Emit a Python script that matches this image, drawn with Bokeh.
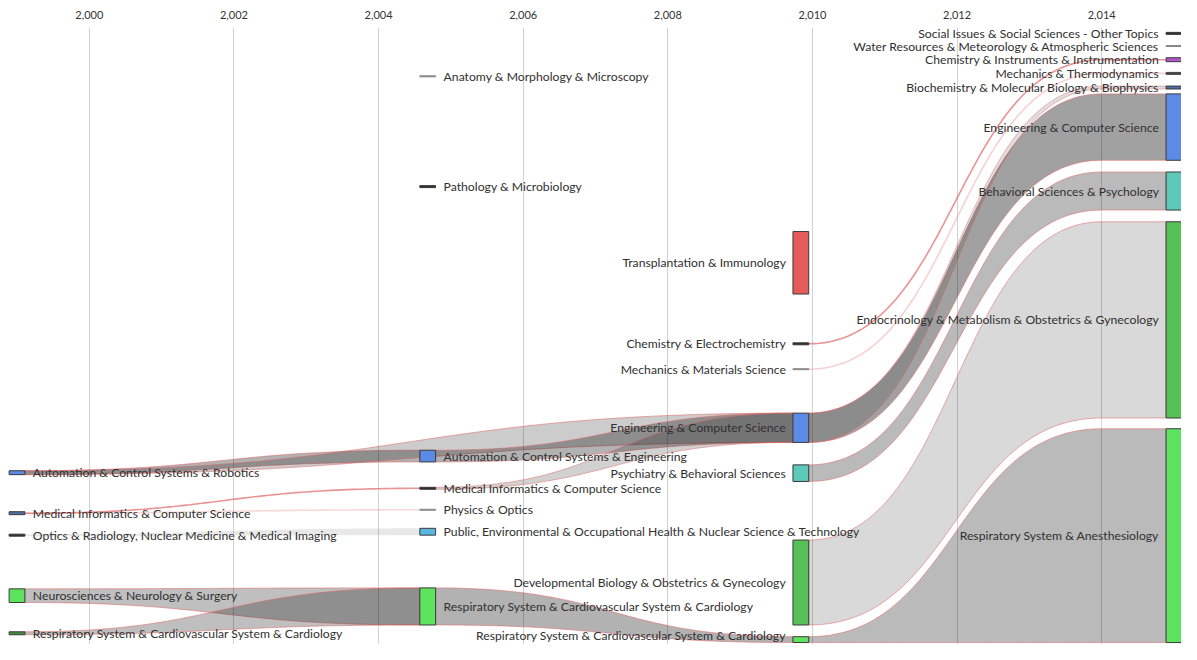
import numpy as np
from bokeh.plotting import figure
from bokeh.models import Range1d, FixedTicker, NumeralTickFormatter, ColumnDataSource
from bokeh.core.properties import value
from bokeh.embed import file_html
from bokeh.resources import INLINE

# ---------------- data ----------------
tick_years = [2000, 2002, 2004, 2006, 2008, 2010, 2012, 2014]
column_years = [1999.0, 2004.68, 2009.84, 2015.0]

node_names = [
    "Automation & Control Systems & Robotics",
    "Medical Informatics & Computer Science",
    "Optics & Radiology, Nuclear Medicine & Medical Imaging",
    "Neurosciences & Neurology & Surgery",
    "Respiratory System & Cardiovascular System & Cardiology",
    "Anatomy & Morphology & Microscopy",
    "Pathology & Microbiology",
    "Automation & Control Systems & Engineering",
    "Medical Informatics & Computer Science",
    "Physics & Optics",
    "Public, Environmental & Occupational Health & Nuclear Science & Technology",
    "Respiratory System & Cardiovascular System & Cardiology",
    "Transplantation & Immunology",
    "Chemistry & Electrochemistry",
    "Mechanics & Materials Science",
    "Engineering & Computer Science",
    "Psychiatry & Behavioral Sciences",
    "Developmental Biology & Obstetrics & Gynecology",
    "Respiratory System & Cardiovascular System & Cardiology",
    "Social Issues & Social Sciences - Other Topics",
    "Water Resources & Meteorology & Atmospheric Sciences",
    "Chemistry & Instruments & Instrumentation",
    "Mechanics & Thermodynamics",
    "Biochemistry & Molecular Biology & Biophysics",
    "Engineering & Computer Science",
    "Behavioral Sciences & Psychology",
    "Endocrinology & Metabolism & Obstetrics & Gynecology",
    "Respiratory System & Anesthesiology",
]
node_column = [0, 0, 0, 0, 0,
               1, 1, 1, 1, 1, 1, 1,
               2, 2, 2, 2, 2, 2, 2,
               3, 3, 3, 3, 3, 3, 3, 3, 3]
node_size = [4, 3, 2, 14, 3,
             1, 2, 12, 2, 1, 7, 38,
             64, 2, 1, 30, 17, 87, 6,
             2, 1, 4, 2, 3, 68, 39, 201, 219]
node_center = [456, 497.5, 520, 582, 620.5,
               50, 163, 439, 472, 494, 516.5, 593,
               241, 324, 350, 410, 456.5, 568.5, 627,
               6, 19, 33, 47, 61.5, 102, 167.5, 299.5, 520.5]

link_source = [0, 0, 1, 1, 2, 3, 4, 7, 8, 11, 15, 15, 16, 17, 18, 13, 14]
link_target = [7, 15, 8, 9, 10, 11, 11, 15, 15, 18, 24, 23, 25, 26, 27, 21, 22]

# ---------------- styles ----------------
node_color = ["#5b8be6", "#4d6ea6", "#333333", "#5de35d", "#3f8f3f",
              "#888888", "#333333", "#5b8be6", "#333333", "#888888", "#5ab6e2", "#5de35d",
              "#e55b5b", "#333333", "#888888", "#5b8be6", "#5cc9b9", "#56c156", "#5de35d",
              "#333333", "#888888", "#b455c8", "#444444", "#4d6ea6", "#5b8be6", "#5cc9b9", "#56c156", "#5de35d"]
link_fill_alpha = [0.30, 0.20, 0.0, 0.0, 0.09, 0.25, 0.25, 0.30, 0.18, 0.30,
                   0.37, 0.13, 0.27, 0.15, 0.27, 0.0, 0.0]
link_line_alpha = [0.55, 0.55, 0.7, 0.25, 0.0, 0.55, 0.55, 0.55, 0.5, 0.55,
                   0.55, 0.45, 0.55, 0.55, 0.55, 0.7, 0.3]
label_dy = [0] * 18 + [-4] + [0] * 9

HW = 0.109          # half node width in years
LAST_CURVE_END = 2014.0
FONT = "Lato"

p = figure(width=1181, height=644,
           x_range=Range1d(1998.772, 2015.104), y_range=Range1d(632, 0),
           x_axis_location="above", y_axis_location=None,
           output_backend="svg", toolbar_location=None,
           min_border_left=0, min_border_right=0, min_border_bottom=0, min_border_top=27)
p.outline_line_color = None
p.background_fill_color = "white"
ticker = FixedTicker(ticks=tick_years)
p.xaxis.ticker = ticker
p.xgrid.ticker = ticker
p.xaxis.formatter = NumeralTickFormatter(format="0,0")
p.xaxis.axis_line_color = None
p.xaxis.major_tick_line_color = None
p.xaxis.minor_tick_line_color = None
p.xaxis.major_label_text_font = FONT
p.xaxis.major_label_text_font_size = "11px"
p.xaxis.major_label_text_color = "#333333"
p.xaxis.major_label_standoff = 3
p.xgrid.grid_line_color = "#d2d2d2"
p.ygrid.visible = False


def node_extent(i):
    c = node_center[i]
    h = node_size[i] / 2.0
    return c - h, c + h


t = np.linspace(0, 1, 80)
band_xs, band_ys, band_fa, band_la = [], [], [], []
thin_xs, thin_ys, thin_la = [], [], []
for k, (s, g) in enumerate(zip(link_source, link_target)):
    x0 = column_years[node_column[s]] + HW
    xr = column_years[node_column[g]] - HW
    x1 = min(xr, LAST_CURVE_END) if node_column[g] == 3 else xr
    xm = (x0 + x1) / 2.0
    bx = (1 - t) ** 3 * x0 + 3 * (1 - t) ** 2 * t * xm + 3 * (1 - t) * t ** 2 * xm + t ** 3 * x1
    f = 3 * t ** 2 - 2 * t ** 3
    s0, s1 = node_extent(s)
    g0, g1 = node_extent(g)
    top = list(s0 + (g0 - s0) * f)
    bot = list(s1 + (g1 - s1) * f)
    bx = list(bx)
    if x1 < xr:
        bx.append(xr)
        top.append(g0)
        bot.append(g1)
    if link_fill_alpha[k] > 0:
        band_xs.append(bx + bx[::-1])
        band_ys.append(top + bot[::-1])
        band_fa.append(link_fill_alpha[k])
        band_la.append(link_line_alpha[k])
    else:
        thin_xs.append(bx)
        thin_ys.append([(a + b) / 2.0 for a, b in zip(top, bot)])
        thin_la.append(link_line_alpha[k])

band_src = ColumnDataSource(dict(xs=band_xs, ys=band_ys, fa=band_fa, la=band_la))
p.patches("xs", "ys", source=band_src, fill_color="black", fill_alpha="fa",
          line_color="#e06666", line_alpha="la", line_width=1)
thin_src = ColumnDataSource(dict(xs=thin_xs, ys=thin_ys, la=thin_la))
p.multi_line("xs", "ys", source=thin_src, line_color="#e06666", line_alpha="la", line_width=1.6)

left = [column_years[c] - HW for c in node_column]
right = [column_years[c] + HW for c in node_column]
tops = [node_extent(i)[0] for i in range(len(node_names))]
bots = [node_extent(i)[1] for i in range(len(node_names))]
ncol_line = ["#3a3a3a" if sz >= 3 else col for sz, col in zip(node_size, node_color)]
node_src = ColumnDataSource(dict(l=left, r=right, t=tops, b=bots, fc=node_color, lc=ncol_line))
p.quad(left="l", right="r", top="t", bottom="b", source=node_src,
       fill_color="fc", line_color="lc", line_width=1)

li = [i for i in range(len(node_names)) if node_column[i] < 2]
ri = [i for i in range(len(node_names)) if node_column[i] >= 2]
lab_l = ColumnDataSource(dict(x=[right[i] for i in li], y=[node_center[i] for i in li],
                              text=[node_names[i] for i in li], dy=[label_dy[i] for i in li]))
lab_r = ColumnDataSource(dict(x=[left[i] for i in ri], y=[node_center[i] for i in ri],
                              text=[node_names[i] for i in ri], dy=[label_dy[i] for i in ri]))
p.text(x="x", y="y", text="text", source=lab_l, text_align="left", text_baseline="middle",
       x_offset=8, y_offset="dy", text_font=value(FONT), text_font_size="12.2px",
       text_color="#303030")
p.text(x="x", y="y", text="text", source=lab_r, text_align="right", text_baseline="middle",
       x_offset=-7, y_offset="dy", text_font=value(FONT), text_font_size="12.2px",
       text_color="#303030")

open("out.html", "w").write(file_html(p, INLINE))
